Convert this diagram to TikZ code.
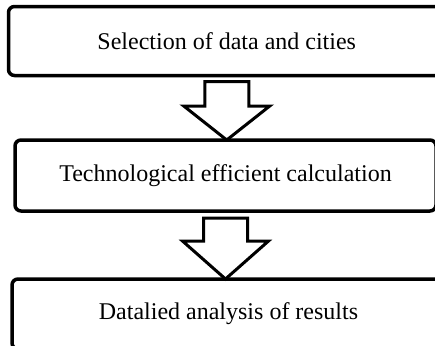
\documentclass[tikz,border=0pt]{standalone}
\usepackage{fontspec}
\setmainfont{Liberation Serif}
\usetikzlibrary{calc, positioning}
\tikzset{
	stage/.style={
		shape=rectangle,
		rounded corners=3pt,
		line width=1.75pt,
		outer sep=0pt,
		text centered,
		font=\fontsize{12}{14}\selectfont,
		draw,
	},
	bigarrow/.style={
		line width=1.5pt,
		line join=miter,
		fill=white,
		draw,
	},
}

\begin{document}
\begin{tikzpicture}[x=0.5pt, y=0.5pt]
\useasboundingbox (0,0) rectangle (435,345);
\clip (0,0) rectangle (435,345);

\node [stage, minimum width=218.25pt, minimum height=34.5pt] (sel) at (226.75,304) {Selection of data and cities};
\node [stage, minimum width=210.5pt, minimum height=35.5pt, below=32.25pt of sel, xshift=-0.625pt] (tec) {Technological efficient calculation};
\node [stage, minimum width=216.5pt, minimum height=35pt, below=34pt of tec, xshift=1.5pt] (res) {Datalied analysis of results};

% block arrows between the stages
\coordinate (tip1) at (sel.south |- tec.north);
\coordinate (tip2) at (tec.south |- res.north);
\draw [bigarrow] ($(sel.south)+(-22,-6)$) |- ($(tip1)+(-43,34)$) -- (tip1)
	-- ($(tip1)+(43,34)$) -| ($(sel.south)+(22,-6)$) -- cycle;
\draw [bigarrow] ($(tec.south)+(-22,-7)$) |- ($(tip2)+(-43,38)$) -- (tip2)
	-- ($(tip2)+(43,38)$) -| ($(tec.south)+(22,-7)$) -- cycle;

\end{tikzpicture}
\end{document}
